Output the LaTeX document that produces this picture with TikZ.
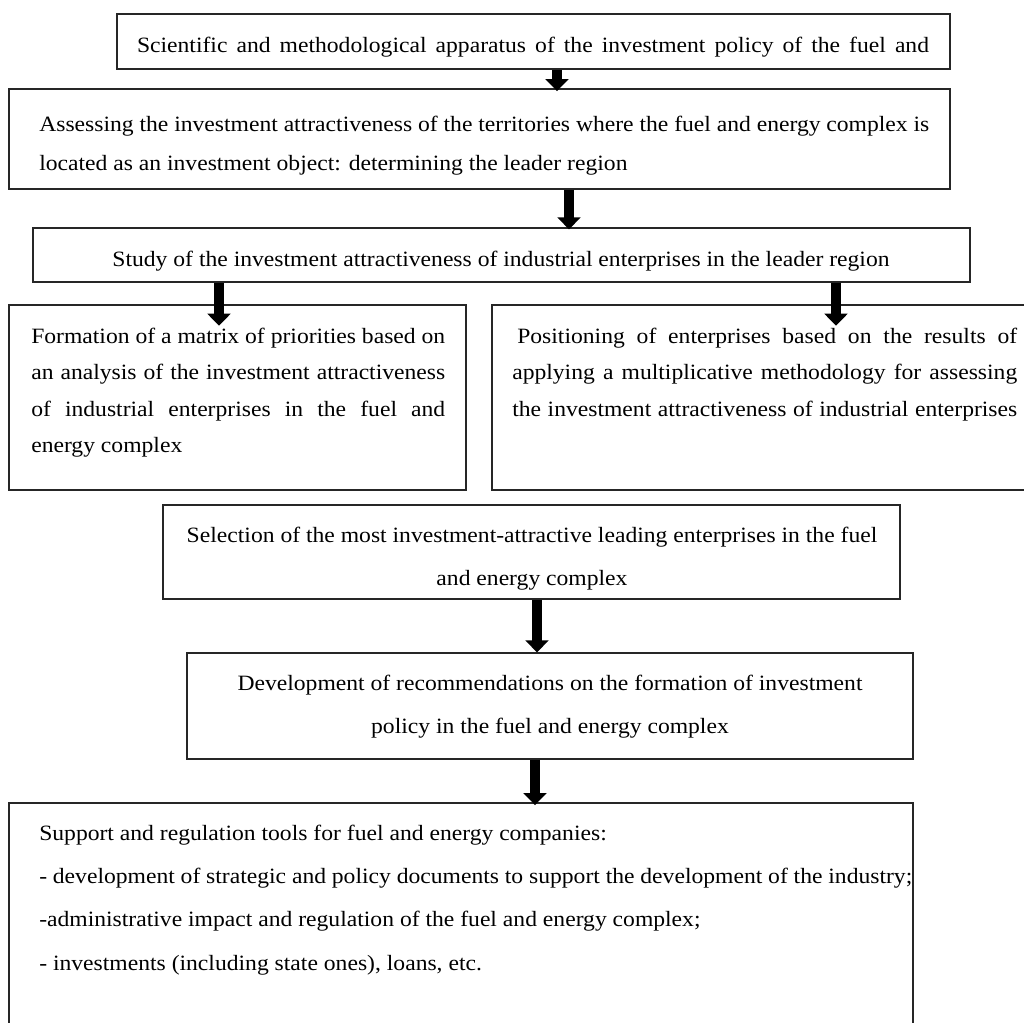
\documentclass[tikz,border=0pt]{standalone}
\usepackage{fontspec}
\setmainfont{Liberation Serif}[FakeStretch=1.08]
\usetikzlibrary{arrows.meta,fit}
\begin{document}
\begin{tikzpicture}[x=0.75pt,y=-0.75pt,
  box/.style={draw=black!85, line width=0.9pt, inner sep=0pt},
  txt/.style={inner sep=0pt, font=\fontsize{16.4}{20}\selectfont},
  arr/.style={line width=7pt, -{Triangle[width=17pt,length=9pt]}}]
\useasboundingbox (0,0) rectangle (1024,1022);
\clip (0,0) rectangle (1024,1022);
\fill[white] (0,0) rectangle (1024,1022);
% box corners
\coordinate (b1a) at (117,14);  \coordinate (b1b) at (950,69);
\coordinate (b2a) at (9,89);    \coordinate (b2b) at (950,189);
\coordinate (b3a) at (33,228);  \coordinate (b3b) at (970,282);
\coordinate (b4la) at (9,305);  \coordinate (b4lb) at (466,490);
\coordinate (b4ra) at (492,305);\coordinate (b4rb) at (1040,490);
\coordinate (b5a) at (163,505); \coordinate (b5b) at (900,599);
\coordinate (b6a) at (187,653); \coordinate (b6b) at (913,759);
\coordinate (b7a) at (9,803);   \coordinate (b7b) at (913,1040);
\node[box, fit=(b1a)(b1b)] (b1) {};
\node[box, fit=(b2a)(b2b)] (b2) {};
\node[box, fit=(b3a)(b3b)] (b3) {};
\node[box, fit=(b4la)(b4lb)] (b4l) {};
\node[box, fit=(b4ra)(b4rb)] (b4r) {};
\node[box, fit=(b5a)(b5b)] (b5) {};
\node[box, fit=(b6a)(b6b)] (b6) {};
\node[box, fit=(b7a)(b7b)] (b7) {};
% arrow x positions
\coordinate (x1) at (557,0);
\coordinate (x2) at (569,0);
\coordinate (x3l) at (219,0);
\coordinate (x3r) at (836,0);
\coordinate (x5) at (537,0);
\coordinate (x6) at (535,0);
\draw[arr, shorten >=-2pt] (b1.south -| x1) -- (b2.north -| x1);
\draw[arr, shorten >=-1.5pt] (b2.south -| x2) -- (b3.north -| x2);
\draw[arr, shorten >=-16pt] (b3.south -| x3l) -- (b4l.north -| x3l);
\draw[arr, shorten >=-16pt] (b3.south -| x3r) -- (b4r.north -| x3r);
\draw[arr] (b5.south -| x5) -- (b6.north -| x5);
\draw[arr, shorten >=-2pt] (b6.south -| x6) -- (b7.north -| x6);
% texts
\node[txt] (t1) at (533,47) {\makebox[594pt][s]{Scientific and methodological apparatus of the investment policy of the fuel and}};
\node[txt, anchor=mid west] (t2a) at (39,128) {\makebox[667.5pt][s]{Assessing the investment attractiveness of the territories where the fuel and energy complex is}};
\node[txt, anchor=mid west] (t2b) at (39,167) {located as an investment object: determining the leader region};
\node[txt] (t3) at (501,261) {Study of the investment attractiveness of industrial enterprises in the leader region};
\node[txt, anchor=mid west] (t4la) at (31,340) {\makebox[310.5pt][s]{Formation of a matrix of priorities based on}};
\node[txt, anchor=mid west] (t4lb) at (31,376.5) {\makebox[310.5pt][s]{an analysis of the investment attractiveness}};
\node[txt, anchor=mid west] (t4lc) at (31,413) {\makebox[310.5pt][s]{of industrial enterprises in the fuel and}};
\node[txt, anchor=mid west] (t4ld) at (31,449.5) {energy complex};
\node[txt, anchor=mid west] (t4ra) at (517,340) {\makebox[375pt][s]{Positioning of enterprises based on the results of}};
\node[txt, anchor=mid west] (t4rb) at (512,376.5) {\makebox[378.75pt][s]{applying a multiplicative methodology for assessing}};
\node[txt, anchor=mid west] (t4rc) at (512,413) {\makebox[378.75pt][s]{the investment attractiveness of industrial enterprises}};
\node[txt] (t5a) at (532,537) {Selection of the most investment-attractive leading enterprises in the fuel};
\node[txt] (t5b) at (532,580) {and energy complex};
\node[txt] (t6a) at (550,685) {Development of recommendations on the formation of investment};
\node[txt] (t6b) at (550,728) {policy in the fuel and energy complex};
\node[txt, anchor=mid west] (t7a) at (39,837) {Support and regulation tools for fuel and energy companies:};
\node[txt, anchor=mid west] (t7b) at (39,880) {\makebox[654.75pt][s]{- development of strategic and policy documents to support the development of the industry;}};
\node[txt, anchor=mid west] (t7c) at (39,923) {-administrative impact and regulation of the fuel and energy complex;};
\node[txt, anchor=mid west] (t7d) at (39,967) {- investments (including state ones), loans, etc.};
\end{tikzpicture}
\end{document}
